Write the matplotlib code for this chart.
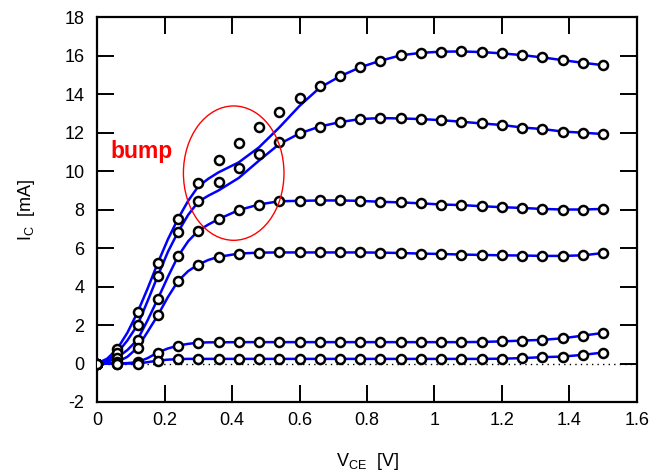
import matplotlib
matplotlib.use("Agg")
import matplotlib.pyplot as plt
from matplotlib.patches import Ellipse

plt.rcParams['font.family'] = ['Liberation Sans', 'DejaVu Sans']

# measured points (markers)
x_meas = [0.00, 0.06, 0.12, 0.18, 0.24, 0.30, 0.36, 0.42, 0.48, 0.54, 0.60, 0.66, 0.72,
          0.78, 0.84, 0.90, 0.96, 1.02, 1.08, 1.14, 1.20, 1.26, 1.32, 1.38, 1.44, 1.50]
meas1 = [0, 0.76, 2.66, 5.22, 7.52, 9.40, 10.57, 11.43, 12.30, 13.04, 13.77, 14.41, 14.95,
         15.39, 15.73, 16.01, 16.14, 16.20, 16.21, 16.18, 16.11, 16.02, 15.90, 15.76, 15.62, 15.50]
meas2 = [0, 0.54, 2.00, 4.55, 6.83, 8.44, 9.44, 10.16, 10.90, 11.49, 11.95, 12.31, 12.54,
         12.70, 12.75, 12.73, 12.70, 12.64, 12.56, 12.47, 12.39, 12.26, 12.18, 12.05, 11.99, 11.92]
meas3 = [0, 0.31, 1.24, 3.35, 5.57, 6.90, 7.50, 7.97, 8.26, 8.43, 8.45, 8.47, 8.47,
         8.45, 8.40, 8.37, 8.32, 8.26, 8.23, 8.17, 8.12, 8.08, 8.03, 8.00, 8.00, 8.03]
meas4 = [0, 0.07, 0.82, 2.50, 4.28, 5.14, 5.54, 5.71, 5.76, 5.77, 5.77, 5.77, 5.77,
         5.77, 5.76, 5.74, 5.71, 5.69, 5.66, 5.64, 5.62, 5.61, 5.59, 5.59, 5.62, 5.74]
meas5 = [0, 0.00, 0.07, 0.57, 0.93, 1.08, 1.10, 1.11, 1.11, 1.11, 1.11, 1.11, 1.11,
         1.11, 1.11, 1.11, 1.11, 1.11, 1.11, 1.12, 1.15, 1.19, 1.23, 1.31, 1.45, 1.59]
meas6 = [0, 0.00, 0.00, 0.15, 0.23, 0.24, 0.24, 0.24, 0.24, 0.24, 0.24, 0.24, 0.24,
         0.24, 0.24, 0.24, 0.24, 0.24, 0.24, 0.24, 0.25, 0.28, 0.33, 0.36, 0.45, 0.57]

# simulated curves (lines)
x_sim = [0.00, 0.03, 0.06, 0.09, 0.12, 0.15, 0.18, 0.21, 0.24, 0.27, 0.30, 0.33, 0.36,
         0.42, 0.48, 0.54, 0.60, 0.66, 0.72, 0.78, 0.84, 0.90, 0.96, 1.02, 1.08, 1.14,
         1.20, 1.26, 1.32, 1.38, 1.44, 1.50]
sim1 = [0, 0.25, 0.76, 1.60, 2.66, 3.90, 5.22, 6.45, 7.52, 8.45, 9.20, 9.60, 9.93,
        10.45, 11.23, 12.26, 13.38, 14.33, 14.92, 15.39, 15.73, 16.01, 16.14, 16.20, 16.21, 16.18,
        16.11, 16.02, 15.90, 15.76, 15.62, 15.50]
sim2 = [0, 0.15, 0.54, 1.20, 2.00, 3.25, 4.55, 5.80, 6.83, 7.72, 8.40, 8.72, 8.99,
        9.64, 10.54, 11.40, 11.95, 12.31, 12.54, 12.70, 12.75, 12.73, 12.70, 12.64, 12.56, 12.47,
        12.39, 12.26, 12.18, 12.05, 11.99, 11.92]
sim3 = [0, 0.08, 0.31, 0.70, 1.24, 2.25, 3.35, 4.50, 5.57, 6.35, 6.90, 7.22, 7.50,
        7.97, 8.26, 8.43, 8.45, 8.47, 8.47, 8.45, 8.40, 8.37, 8.32, 8.26, 8.23, 8.17,
        8.12, 8.08, 8.03, 8.00, 8.00, 8.03]
sim4 = [0, 0.01, 0.07, 0.35, 0.82, 1.65, 2.50, 3.45, 4.28, 4.80, 5.14, 5.38, 5.54,
        5.71, 5.76, 5.77, 5.77, 5.77, 5.77, 5.77, 5.76, 5.74, 5.71, 5.69, 5.66, 5.64,
        5.62, 5.61, 5.59, 5.59, 5.62, 5.74]
sim5 = [0, 0.00, 0.00, 0.02, 0.07, 0.28, 0.57, 0.78, 0.93, 1.02, 1.08, 1.10, 1.10,
        1.11, 1.11, 1.11, 1.11, 1.11, 1.11, 1.11, 1.11, 1.11, 1.11, 1.11, 1.11, 1.12,
        1.15, 1.19, 1.23, 1.31, 1.45, 1.59]
sim6 = [0, 0.00, 0.00, 0.00, 0.00, 0.07, 0.15, 0.20, 0.23, 0.24, 0.24, 0.24, 0.24,
        0.24, 0.24, 0.24, 0.24, 0.24, 0.24, 0.24, 0.24, 0.24, 0.24, 0.24, 0.24, 0.24,
        0.25, 0.28, 0.33, 0.36, 0.45, 0.57]

meas = [meas1, meas2, meas3, meas4, meas5, meas6]
sims = [sim1, sim2, sim3, sim4, sim5, sim6]

xticks = [0, 0.2, 0.4, 0.6, 0.8, 1.0, 1.2, 1.4, 1.6]
xticklabels = ['0', '0.2', '0.4', '0.6', '0.8', '1', '1.2', '1.4', '1.6']
yticks = [-2, 0, 2, 4, 6, 8, 10, 12, 14, 16, 18]
yticklabels = ['-2', '0', '2', '4', '6', '8', '10', '12', '14', '16', '18']

fig = plt.figure(figsize=(6.56, 4.74), dpi=100)
ax = fig.add_axes([0.1479, 0.1519, 0.8231, 0.8122])

ax.axhline(0, color='black', lw=1.0, ls=(0, (1, 3)), zorder=1)

for s in sims:
    ax.plot(x_sim, s, color='#0000ff', lw=1.8, zorder=2)
for m in meas:
    ax.plot(x_meas, m, ls='none', marker='o', ms=6.5, mfc='white', mec='black', mew=1.8, zorder=3)

ell = Ellipse((0.405, 9.89), 0.298, 6.98, fill=False, edgecolor='red', lw=1.0, zorder=4)
ax.add_patch(ell)
ax.text(0.04, 11.0, 'bump', color='red', fontsize=16.5, fontweight='bold', ha='left', va='center')

ax.set_xlim(0, 1.6)
ax.set_ylim(-2, 18)
ax.set_xticks(xticks)
ax.set_xticklabels(xticklabels)
ax.set_yticks(yticks)
ax.set_yticklabels(yticklabels)
ax.tick_params(direction='in', length=12, width=1.4, top=True, right=True, labelsize=13)
ax.tick_params(axis='x', pad=7)
ax.tick_params(axis='y', pad=9)
for sp in ax.spines.values():
    sp.set_linewidth(1.6)

ax.set_xlabel(r'V$_\mathregular{CE}$  [V]', fontsize=13, labelpad=16)
ax.set_ylabel(r'I$_\mathregular{C}$  [mA]', fontsize=13, labelpad=20)

fig.savefig('out.png', dpi=100)
